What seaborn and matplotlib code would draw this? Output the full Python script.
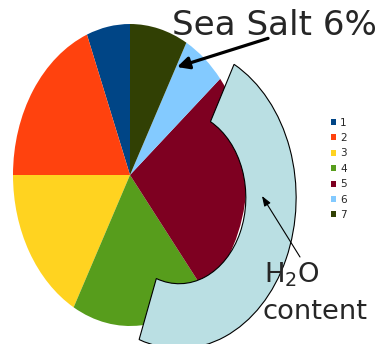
import matplotlib
matplotlib.use("Agg")
import matplotlib.pyplot as plt
from matplotlib.patches import Wedge
import seaborn as sns

# --- Data ---
labels = ['1', '2', '3', '4', '5', '6', '7']
shares = [6, 19, 17, 19, 25, 6, 8]
colors = ['#004586', '#ff420e', '#ffd320', '#579d1c', '#7e0021', '#83caff', '#314004']

sns.set_theme(style='white')
plt.rcParams['font.family'] = ['DejaVu Sans']
palette = sns.color_palette(colors)

fig = plt.figure(figsize=(3.79, 3.44), dpi=100)
ax = fig.add_axes([0, 0, 1, 1])

wedges, _ = ax.pie(shares, colors=palette, startangle=90, counterclock=True,
                   radius=1.0, wedgeprops=dict(linewidth=0))

# pie is squeezed horizontally in the original slide
ax.set_aspect('auto')
ax.set_xlim(-130 / 117, 249 / 117)
ax.set_ylim(-169 / 151, 175 / 151)
ax.axis('off')

# water content ring laid over the pie
ring = Wedge((0.42, -0.15), 1.0, -110, 62, width=0.43,
             facecolor='#badfe3', edgecolor='black', linewidth=0.8, zorder=5)
ax.add_patch(ring)

# --- Annotations ---
ax.text(0.36, 0.927, 'Sea Salt 6%', fontsize=24.6, ha='left', va='baseline', zorder=6)
ax.annotate('', xy=(0.402, 0.715), xytext=(1.18, 0.905),
            arrowprops=dict(arrowstyle='-|>,head_length=0.6,head_width=0.3',
                            color='black', lw=2.3, shrinkA=0, shrinkB=0), zorder=6)

ax.text(1.145, -0.715, r'H$_\mathregular{2}$O', fontsize=19.7, ha='left', va='baseline', zorder=6)
ax.text(1.13, -0.954, 'content', fontsize=19.7, ha='left', va='baseline', zorder=6)
ax.annotate('', xy=(1.128, -0.139), xytext=(1.453, -0.543),
            arrowprops=dict(arrowstyle='-|>,head_length=0.5,head_width=0.18',
                            color='black', lw=0.8, shrinkA=0, shrinkB=0), zorder=6)

# --- Legend ---
fig.legend(wedges, labels, loc='center left', bbox_to_anchor=(0.874, 0.509),
           frameon=False, fontsize=7.5, borderpad=0, borderaxespad=0,
           handlelength=0.5, handleheight=0.5, handletextpad=0.35, labelspacing=0.52)

fig.savefig('out.png', dpi=100)
